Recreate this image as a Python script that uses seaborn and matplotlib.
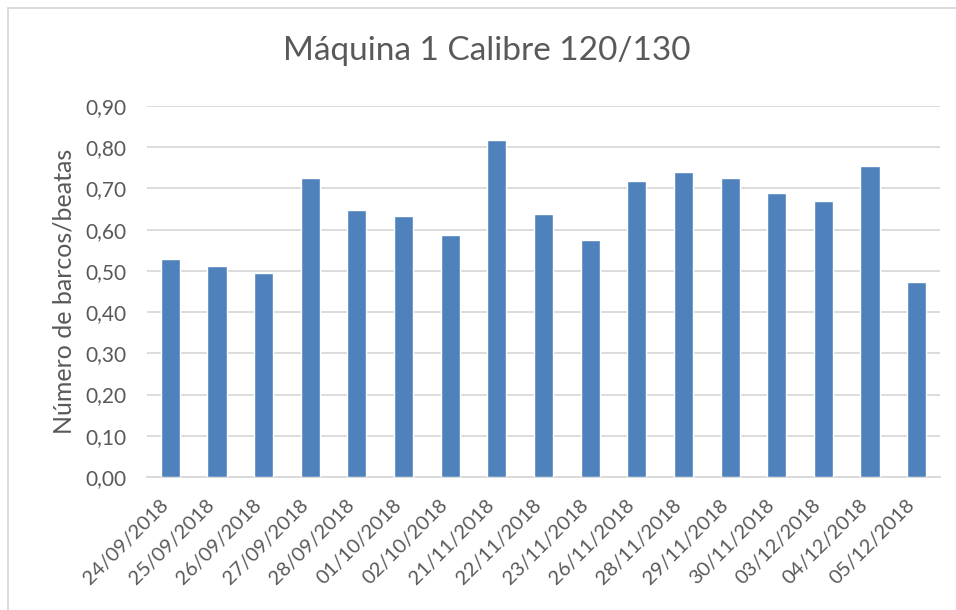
import matplotlib
matplotlib.use("Agg")
import matplotlib.pyplot as plt
import matplotlib.transforms as mtransforms
import seaborn as sns
import pandas as pd
from matplotlib.lines import Line2D
from matplotlib.ticker import FuncFormatter, MultipleLocator

dates = ["24/09/2018", "25/09/2018", "26/09/2018", "27/09/2018", "28/09/2018",
         "01/10/2018", "02/10/2018", "21/11/2018", "22/11/2018", "23/11/2018",
         "26/11/2018", "28/11/2018", "29/11/2018", "30/11/2018", "03/12/2018",
         "04/12/2018", "05/12/2018"]
values = [0.529, 0.512, 0.496, 0.725, 0.648, 0.632, 0.586, 0.818, 0.639, 0.576,
          0.719, 0.739, 0.726, 0.688, 0.670, 0.754, 0.474]
title = "Máquina 1 Calibre 120/130"
ylabel = "Número de barcos/beatas"

sns.set_theme(style="white")
plt.rcParams['font.family'] = ['Lato', 'DejaVu Sans']

df = pd.DataFrame({"fecha": dates, "valor": values})

fig = plt.figure(figsize=(9.56, 6.10), dpi=100)
ax = fig.add_axes([147/956, 133/610, 793/956, 371/610])

sns.barplot(data=df, x="fecha", y="valor", color="#4F81BD", saturation=1,
            width=0.41, ax=ax, zorder=3)

ax.set_ylim(0, 0.9)
ax.yaxis.set_major_locator(MultipleLocator(0.1))
ax.yaxis.set_major_formatter(FuncFormatter(lambda v, p: f"{v:.2f}".replace(".", ",")))
ax.grid(axis="y", color="#D9D9D9", linewidth=1.3, zorder=0)
ax.set_axisbelow(True)
for s in ["top", "right", "left"]:
    ax.spines[s].set_visible(False)
ax.spines["bottom"].set_color("#D9D9D9")
ax.spines["bottom"].set_linewidth(1.3)
ax.set_xlim(-0.5, len(dates) - 0.5)

ax.tick_params(axis="y", labelsize=15, colors="#595959", length=0, pad=15)
ax.tick_params(axis="x", labelsize=14.5, colors="#595959", length=0, pad=0)
offset = mtransforms.ScaledTranslation(-11/100, -19/100, fig.dpi_scale_trans)
for lab in ax.get_xticklabels():
    lab.set_rotation(45)
    lab.set_ha("right")
    lab.set_va("top")
    lab.set_rotation_mode("anchor")
    lab.set_transform(lab.get_transform() + offset)

ax.set_xlabel("")
ax.set_ylabel(ylabel, fontsize=18, color="#595959", labelpad=7)
fig.text(487/956, 1 - 51/610, title, ha="center", va="center",
         fontsize=24, color="#595959")

fig.add_artist(Line2D([7.5/956, 7.5/956], [0, 1 - 7.5/610], transform=fig.transFigure,
                      color="#D9D9D9", linewidth=1.3))
fig.add_artist(Line2D([7.5/956, 1], [1 - 7.5/610, 1 - 7.5/610], transform=fig.transFigure,
                      color="#D9D9D9", linewidth=1.3))

fig.savefig("out.png", dpi=100)
